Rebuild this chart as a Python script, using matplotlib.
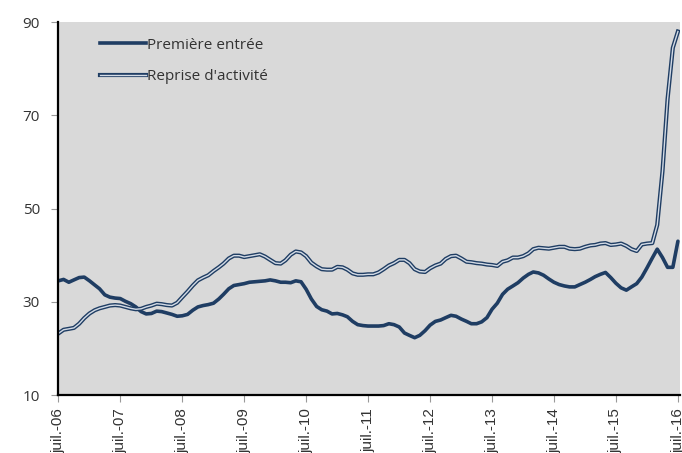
import numpy as np
import pandas as pd
from matplotlib import pyplot as plt
from matplotlib.lines import Line2D

# Monthly series, July 2006 -> July 2016
months = pd.date_range("2006-07-01", "2016-07-01", freq="MS")

premiere_entree = [
    34.5, 34.8, 34.2, 34.7, 35.2, 35.3, 34.5, 33.6, 32.8, 31.5, 31.0, 30.8,
    30.7, 30.1, 29.6, 28.9, 27.9, 27.4, 27.5, 28.0, 27.9, 27.6, 27.3, 26.9,
    27.0, 27.3, 28.2, 28.9, 29.2, 29.4, 29.7, 30.6, 31.6, 32.8, 33.5, 33.7,
    33.9, 34.2, 34.3, 34.4, 34.5, 34.7, 34.5, 34.2, 34.2, 34.1, 34.5, 34.3,
    32.7, 30.6, 29.0, 28.3, 28.0, 27.4, 27.5, 27.2, 26.8, 25.8, 25.1, 24.9,
    24.8, 24.8, 24.8, 24.9, 25.3, 25.1, 24.6, 23.3, 22.8, 22.3, 22.8, 23.8,
    25.0, 25.8, 26.1, 26.6, 27.1, 26.9, 26.3, 25.8, 25.3, 25.3, 25.7, 26.6,
    28.4, 29.7, 31.6, 32.7, 33.4, 34.1, 35.1, 35.9, 36.4, 36.2, 35.7, 34.9,
    34.2, 33.7, 33.4, 33.2, 33.2, 33.7, 34.2, 34.8, 35.4, 35.9, 36.3, 35.2,
    34.0, 33.0, 32.5, 33.2, 33.9, 35.3, 37.3, 39.4, 41.3, 39.5, 37.4, 37.4,
    43.0,
]

reprise_activite = [
    23.2, 24.0, 24.2, 24.4, 25.3, 26.5, 27.5, 28.2, 28.6, 28.9, 29.2, 29.3,
    29.2, 28.9, 28.6, 28.4, 28.5, 28.9, 29.2, 29.6, 29.5, 29.3, 29.2, 29.8,
    31.0, 32.2, 33.5, 34.6, 35.2, 35.7, 36.6, 37.4, 38.2, 39.3, 39.9, 39.9,
    39.6, 39.8, 40.0, 40.2, 39.7, 39.0, 38.3, 38.2, 38.9, 40.1, 40.8, 40.6,
    39.8, 38.4, 37.6, 37.0, 36.9, 36.9, 37.5, 37.4, 36.9, 36.1, 35.8, 35.8,
    35.9, 35.9, 36.3, 37.0, 37.8, 38.3, 39.0, 39.0, 38.3, 37.0, 36.5, 36.4,
    37.2, 37.8, 38.2, 39.2, 39.8, 39.9, 39.3, 38.6, 38.5, 38.3, 38.2, 38.0,
    37.9, 37.7, 38.6, 38.9, 39.5, 39.5, 39.8, 40.4, 41.3, 41.6, 41.5, 41.4,
    41.6, 41.8, 41.8, 41.4, 41.3, 41.4, 41.8, 42.1, 42.2, 42.5, 42.6, 42.2,
    42.3, 42.5, 42.0, 41.3, 40.9, 42.3, 42.5, 42.6, 46.5, 58.0, 73.5, 84.5,
    88.0,
]

labels = ["Première entrée", "Reprise d'activité"]
y_ticks = [10, 30, 50, 70, 90]
x_ticks = pd.date_range("2006-07-01", "2016-07-01", freq="12MS")
x_ticklabels = [f"juil.-{d:%y}" for d in x_ticks]

navy = "#1f3d63"
light = "#d3dbe6"

fig = plt.figure(figsize=(6.82, 4.53), dpi=100)
ax = fig.add_axes([0.085, 0.128, 0.912, 0.823])
ax.set_facecolor("#d9d9d9")

ax.plot(months, premiere_entree, color=navy, lw=2.6, solid_capstyle="round")
# double line: dark outline with a light core
ax.plot(months, reprise_activite, color=navy, lw=3.0)
ax.plot(months, reprise_activite, color=light, lw=1.0)

ax.set_ylim(10, 90)
ax.set_yticks(y_ticks)
ax.set_xlim(months[0] - pd.Timedelta(days=2), months[-1] + pd.Timedelta(days=12))
ax.set_xticks(x_ticks)
ax.set_xticklabels(x_ticklabels, rotation=90, va="top",
                   fontfamily="Liberation Sans", fontsize=11, color="#333333")

for lbl in ax.get_yticklabels():
    lbl.set_fontfamily("Open Sans")
    lbl.set_fontsize(11)
    lbl.set_color("#333333")

ax.spines["top"].set_visible(False)
ax.spines["right"].set_visible(False)
ax.spines["left"].set_linewidth(1.6)
ax.spines["bottom"].set_linewidth(1.6)
ax.tick_params(axis="y", length=5, width=0.8, color="#999999", pad=8)
ax.tick_params(axis="x", length=5, width=0.8, color="#999999", pad=4.5)

handles = [
    Line2D([0], [0], color=navy, lw=2.6),
    (Line2D([0], [0], color=navy, lw=3.0), Line2D([0], [0], color=light, lw=1.0)),
]
ax.legend(handles, labels, loc="upper left", bbox_to_anchor=(0.045, 0.995),
          frameon=False, handlelength=3.0, handletextpad=0.1, labelspacing=1.05,
          prop={"family": "Open Sans", "size": 11}, labelcolor="#333333")

fig.savefig("out.png", dpi=100)
